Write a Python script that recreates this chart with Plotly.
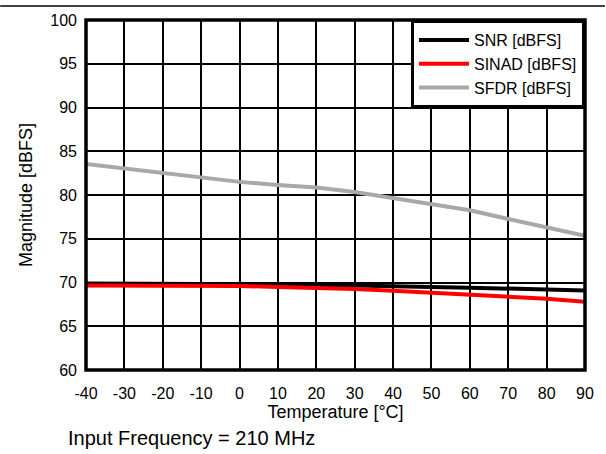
import plotly.graph_objects as go

temps = [-40, -30, -20, -10, 0, 10, 20, 30, 40, 50, 60, 70, 80, 90]
snr = [69.9, 69.9, 69.9, 69.9, 69.85, 69.8, 69.75, 69.7, 69.6, 69.5, 69.4, 69.3, 69.2, 69.1]
sinad = [69.65, 69.65, 69.65, 69.65, 69.6, 69.5, 69.4, 69.25, 69.05, 68.85, 68.65, 68.4, 68.15, 67.8]
sfdr = [83.55, 83.05, 82.5, 82.0, 81.5, 81.15, 80.85, 80.35, 79.65, 79.05, 78.25, 77.25, 76.3, 75.35]

series_names = ["SNR [dBFS]", "SINAD [dBFS]", "SFDR [dBFS]"]
series_colors = ["#000000", "#ff0000", "#a8a8a8"]
x_ticks = list(range(-40, 91, 10))
y_ticks = list(range(60, 101, 5))

FONT = "Liberation Sans, Arial, Helvetica, sans-serif"

fig = go.Figure()
for name, vals, col in zip(series_names, [snr, sinad, sfdr], series_colors):
    fig.add_trace(go.Scatter(x=temps, y=vals, mode="lines", name=name,
                             line=dict(color=col, width=4)))

W, H = 606, 454
ml, mr, mt, mb = 86, 20, 17, 84
pw, ph = W - ml - mr, H - mt - mb

fig.update_layout(
    width=W, height=H,
    margin=dict(l=ml, r=mr, t=mt, b=mb, pad=0),
    paper_bgcolor="white", plot_bgcolor="white",
    font=dict(family=FONT, color="black", size=16),
    showlegend=True,
    legend=dict(x=1, y=1, xanchor="right", yanchor="top",
                bgcolor="white", bordercolor="black", borderwidth=3,
                font=dict(size=16, family=FONT, color="black"),
                itemwidth=50, tracegroupgap=0),
    xaxis=dict(range=[-40, 90], tickvals=x_ticks, ticktext=[str(v) for v in x_ticks],
               showgrid=True, gridcolor="black", gridwidth=2,
               zeroline=False, showline=False, ticks="",
               ticklabelstandoff=12,
               tickfont=dict(size=16),
               title=dict(text="Temperature [°C]", font=dict(size=18), standoff=4)),
    yaxis=dict(range=[60, 100], tickvals=y_ticks, ticktext=[str(v) for v in y_ticks],
               showgrid=True, gridcolor="black", gridwidth=2,
               zeroline=False, showline=False, ticks="",
               ticklabelstandoff=8,
               tickfont=dict(size=16),
               title=dict(text="Magnitude [dBFS]", font=dict(size=18), standoff=12)),
    shapes=[
        dict(type="rect", xref="paper", yref="paper", x0=0, x1=1, y0=0, y1=1,
             line=dict(color="black", width=3.5), fillcolor="rgba(0,0,0,0)", layer="above"),
        dict(type="line", xref="paper", yref="paper",
             x0=-ml / pw, x1=1 + mr / pw, y0=1 + 14 / ph, y1=1 + 14 / ph,
             line=dict(color="black", width=1.5)),
    ],
    annotations=[
        dict(text="Input Frequency = 210 MHz", xref="paper", yref="paper",
             x=(66 - ml) / pw, y=(ph + mt - 439) / ph, xanchor="left", yanchor="middle",
             showarrow=False, font=dict(size=20, family=FONT, color="black")),
    ],
)

fig.write_html("out.html", config={"displayModeBar": False},
               post_script="document.body.style.margin='0';document.body.style.overflow='hidden';")
